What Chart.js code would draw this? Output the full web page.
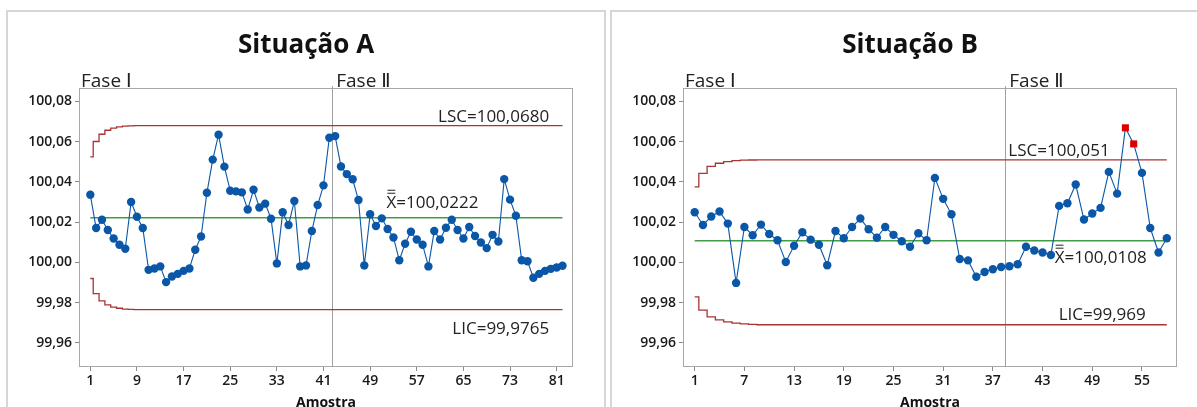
<!DOCTYPE html>
<html lang="pt">
<head>
<meta charset="utf-8">
<title>Situação A / Situação B</title>
<script src="https://cdn.jsdelivr.net/npm/chart.js@4.4.1/dist/chart.umd.min.js"></script>
<style>
  html, body { margin: 0; padding: 0; background: #fff; overflow: hidden; }
  body { position: relative; width: 1197px; height: 407px; }
  .panel { position: absolute; top: 10px; width: 600px; height: 420px; box-sizing: border-box; border: 2px solid #d6d6d6; }
  canvas { position: absolute; top: 10px; }
</style>
</head>
<body>
<div class="panel" style="left:6px"></div>
<div class="panel" style="left:610px"></div>
<canvas id="chartA" width="600" height="400" style="left:6px"></canvas>
<canvas id="chartB" width="600" height="400" style="left:610px"></canvas>
<script>
// Situação A: 82 amostras, Fase II começa na amostra 43
const amostrasA = [
    100.0336, 100.0171, 100.0212, 100.0161, 100.0119, 100.0088, 100.0068, 100.0300, 100.0227, 100.0171,
    99.9963, 99.9970, 99.9980, 99.9902, 99.9930, 99.9943, 99.9958, 99.9970, 100.0063, 100.0129,
    100.0346, 100.0511, 100.0635, 100.0476, 100.0356, 100.0353, 100.0348, 100.0263, 100.0361, 100.0273,
    100.0292, 100.0217, 99.9995, 100.0249, 100.0186, 100.0305, 99.9980, 99.9985, 100.0156, 100.0285,
    100.0383, 100.0620, 100.0628, 100.0477, 100.0439, 100.0413, 100.0310, 99.9985, 100.0239, 100.0181,
    100.0219, 100.0166, 100.0124, 100.0011, 100.0093, 100.0152, 100.0114, 100.0088, 99.9980, 100.0156,
    100.0114, 100.0172, 100.0212, 100.0161, 100.0119, 100.0176, 100.0131, 100.0099, 100.0071, 100.0137,
    100.0104, 100.0414, 100.0312, 100.0232, 100.0011, 100.0006, 99.9924, 99.9943, 99.9958, 99.9968,
    99.9975, 99.9983
];
const lscA = 100.0680;
const lcA = 100.0222;
const licA = 99.9765;
// limites nas primeiras amostras (antes de estabilizar)
const lscInicioA = [100.0525, 100.0601, 100.0637, 100.0657, 100.0668, 100.0674, 100.0677, 100.0679, 100.0680];
const licInicioA = [99.9920, 99.9845, 99.9809, 99.9789, 99.9778, 99.9772, 99.9768, 99.9766, 99.9765];
const xTicksA = [1, 9, 17, 25, 33, 41, 49, 57, 65, 73, 81];
const faseIIA = 43;

// Situação B: 58 amostras, Fase II começa na amostra 39
const amostrasB = [
    100.0249, 100.0186, 100.0228, 100.0253, 100.0193, 99.9898, 100.0176, 100.0135, 100.0188, 100.0141,
    100.0110, 100.0002, 100.0083, 100.0150, 100.0113, 100.0088, 99.9986, 100.0156, 100.0120, 100.0176,
    100.0218, 100.0165, 100.0123, 100.0176, 100.0137, 100.0105, 100.0078, 100.0145, 100.0110, 100.0420,
    100.0316, 100.0239, 100.0017, 100.0010, 99.9929, 99.9952, 99.9966, 99.9977, 99.9981, 99.9991,
    100.0078, 100.0059, 100.0049, 100.0037, 100.0281, 100.0294, 100.0387, 100.0213, 100.0243, 100.0271,
    100.0450, 100.0342, 100.0669, 100.0589, 100.0445, 100.0171, 100.0049, 100.0120
];
const lscB = 100.051;
const lcB = 100.0108;
const licB = 99.969;
const lscInicioB = [100.0375, 100.0443, 100.0477, 100.0493, 100.0501, 100.0506, 100.0508, 100.0509, 100.0510];
const licInicioB = [99.9829, 99.9763, 99.9729, 99.9714, 99.9704, 99.9698, 99.9694, 99.9692, 99.9690];
const xTicksB = [1, 7, 13, 19, 25, 31, 37, 43, 49, 55];
const faseIIB = 39;

const yTicks = [99.96, 99.98, 100.00, 100.02, 100.04, 100.06, 100.08];

const AZUL = '#0a57a8';
const VERMELHO = '#a83434';
const VERDE = '#3f9e44';
const FONTE = '"Open Sans", "DejaVu Sans", sans-serif';

const fmt = (v, d) => v.toFixed(d).replace('.', ',');

function limitPoints(inicio, valor, n) {
    const pts = inicio.map((v, i) => ({ x: i + 1, y: v }));
    pts.push({ x: n, y: valor });
    return pts;
}

// desenha moldura, linha de fase e os textos da carta
const carta = {
    id: 'carta',
    beforeDatasetsDraw(chart, args, opts) {
        const { ctx, chartArea: a, scales: { x } } = chart;
        ctx.save();
        ctx.strokeStyle = '#a8a8a8';
        ctx.lineWidth = 1;
        ctx.strokeRect(a.left + 0.5, a.top + 0.5, a.width - 1, a.height - 1);
        const px = Math.round(x.getPixelForValue(opts.faseII - 0.5)) + 0.5;
        ctx.strokeStyle = '#a0a0a0';
        ctx.beginPath();
        ctx.moveTo(px, a.top - 2);
        ctx.lineTo(px, a.bottom);
        ctx.stroke();
        ctx.restore();
    },
    afterDraw(chart, args, opts) {
        const { ctx, chartArea: a, scales: { x, y } } = chart;
        ctx.save();
        ctx.fillStyle = '#111';
        ctx.textBaseline = 'alphabetic';

        ctx.font = 'bold 26px ' + FONTE;
        ctx.textAlign = 'center';
        ctx.fillText(opts.titulo, chart.width / 2, 43);

        ctx.fillStyle = '#222';
        ctx.font = '19px ' + FONTE;
        ctx.textAlign = 'left';
        ctx.fillText('Fase \u2160', a.left + 2, a.top - 1);
        const px = x.getPixelForValue(opts.faseII - 0.5);
        ctx.fillText('Fase \u2161', px + 4, a.top - 1);

        ctx.font = '17px ' + FONTE;
        opts.rotulos.forEach(r => {
            ctx.textAlign = r.align;
            const tx = x.getPixelForValue(r.x);
            const ty = y.getPixelForValue(r.y) + r.dy;
            ctx.fillText(r.texto, tx, ty);
            if (r.barra) {
                // barras duplas sobre o X
                const w = ctx.measureText('X').width;
                ctx.fillRect(tx + 1, ty - 15, w - 2, 1);
                ctx.fillRect(tx + 1, ty - 18, w - 2, 1);
            }
        });

        ctx.fillStyle = '#111';
        ctx.font = 'bold 14px ' + FONTE;
        ctx.textAlign = 'center';
        ctx.fillText('Amostra', (a.left + a.right) / 2, 397);
        ctx.restore();
    }
};

function makeChart(id, amostras, lsc, lc, lic, lscInicio, licInicio, xTicks, xMin, xMax, faseII, titulo, rotulos) {
    const n = amostras.length;
    const pontos = amostras.map((v, i) => ({ x: i + 1, y: v }));
    const fora = c => c.parsed && (c.parsed.y > lsc || c.parsed.y < lic);
    const ctx = document.getElementById(id).getContext('2d');
    return new Chart(ctx, {
        type: 'line',
        data: {
            datasets: [{
                data: pontos,
                borderColor: AZUL,
                borderWidth: 1.1,
                pointStyle: c => fora(c) ? 'rect' : 'circle',
                pointRadius: c => fora(c) ? 5 : 4.2,
                pointBackgroundColor: c => fora(c) ? '#dd0000' : AZUL,
                pointBorderWidth: 0,
                order: 0
            }, {
                data: [{ x: 1, y: lc }, { x: n, y: lc }],
                borderColor: VERDE,
                borderWidth: 1.4,
                pointRadius: 0,
                order: 2
            }, {
                data: limitPoints(lscInicio, lsc, n),
                borderColor: VERMELHO,
                borderWidth: 1.3,
                stepped: 'middle',
                pointRadius: 0,
                order: 1
            }, {
                data: limitPoints(licInicio, lic, n),
                borderColor: VERMELHO,
                borderWidth: 1.3,
                stepped: 'middle',
                pointRadius: 0,
                order: 1
            }]
        },
        options: {
            responsive: false,
            animation: false,
            layout: { padding: { top: 78, right: 33, left: 0, bottom: 0 } },
            plugins: {
                legend: { display: false },
                tooltip: { enabled: false },
                carta: { titulo: titulo, faseII: faseII, rotulos: rotulos }
            },
            scales: {
                x: {
                    type: 'linear',
                    min: xMin,
                    max: xMax,
                    afterBuildTicks: s => { s.ticks = xTicks.map(v => ({ value: v })); },
                    afterFit: s => { s.height = 43; },
                    grid: { display: true, drawOnChartArea: false, drawTicks: true, tickLength: 4, color: '#8a8a8a' },
                    border: { display: false },
                    ticks: {
                        padding: 2,
                        color: '#1a1a1a',
                        font: { family: FONTE, size: 14, weight: 600 },
                        maxRotation: 0,
                        autoSkip: false,
                        callback: v => String(v)
                    }
                },
                y: {
                    min: 99.948,
                    max: 100.0867,
                    afterBuildTicks: s => { s.ticks = yTicks.map(v => ({ value: v })); },
                    afterFit: s => { s.width = 73; },
                    grid: { display: true, drawOnChartArea: false, drawTicks: true, tickLength: 4, color: '#8a8a8a' },
                    border: { display: false },
                    ticks: {
                        padding: 3,
                        color: '#1a1a1a',
                        font: { family: FONTE, size: 14, weight: 600 },
                        callback: v => fmt(v, 2)
                    }
                }
            }
        },
        plugins: [carta]
    });
}

makeChart('chartA', amostrasA, lscA, lcA, licA, lscInicioA, licInicioA, xTicksA, -0.94, 83.8, faseIIA,
    'Situação A', [
        { texto: 'LSC=' + fmt(lscA, 4), x: 79.7, y: lscA, dy: -4, align: 'right' },
        { texto: 'X=' + fmt(lcA, 4), x: 51.8, y: lcA, dy: -10, align: 'left', barra: true },
        { texto: 'LIC=' + fmt(licA, 4), x: 79.7, y: licA, dy: 24, align: 'right' }
    ]);

makeChart('chartB', amostrasB, lscB, lcB, licB, lscInicioB, licInicioB, xTicksB, -0.41, 59.23, faseIIB,
    'Situação B', [
        { texto: 'LSC=' + fmt(lscB, 3), x: 51.1, y: lscB, dy: -4, align: 'right' },
        { texto: 'X=' + fmt(lcB, 4), x: 44.46, y: lcB, dy: 22, align: 'left', barra: true },
        { texto: 'LIC=' + fmt(licB, 3), x: 55.45, y: licB, dy: -5, align: 'right' }
    ]);
</script>
</body>
</html>
